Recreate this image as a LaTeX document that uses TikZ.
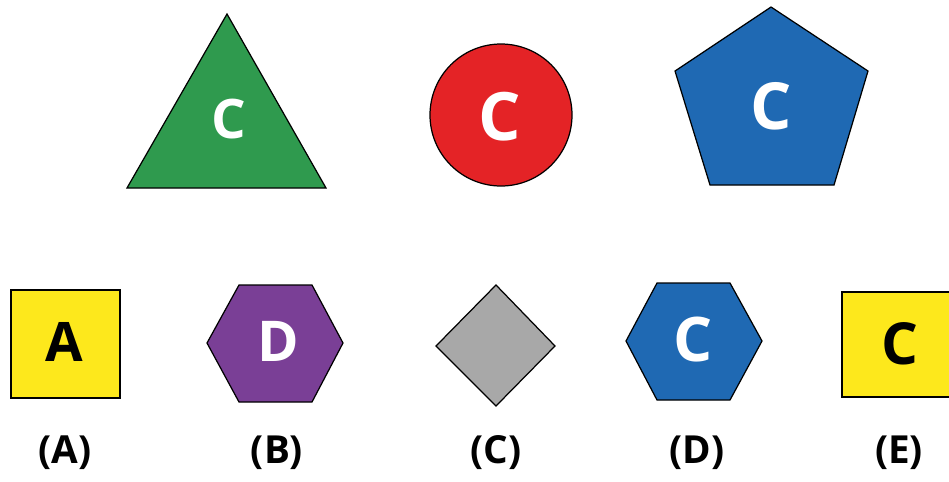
\documentclass[tikz,border=0pt]{standalone}
\usepackage{fontspec}
\setmainfont{Open Sans}
\usepackage{xcolor}
\usepackage{tikz}
\usetikzlibrary{positioning}

\definecolor{shgreen}{HTML}{2F9A4E}
\definecolor{shred}{HTML}{E42326}
\definecolor{shblue}{HTML}{1F69B3}
\definecolor{shpurple}{HTML}{7A3F96}
\definecolor{shgray}{HTML}{A8A8A8}
\definecolor{shyellow}{HTML}{FDE81C}

\tikzset{
  figure/.style={draw=black, line width=0.7pt, line join=miter},
  letter/.style={font=\fontsize{#1}{#1}\selectfont\bfseries, inner sep=0pt},
  caption/.style={font=\fontsize{22}{22}\selectfont\bfseries, inner sep=0pt}
}

\begin{document}
\begin{tikzpicture}[x=0.02cm, y=-0.02cm]
\useasboundingbox (0,0) rectangle (949,481);
\begin{scope}
\clip (0,0) rectangle (949,481);
% top row
\filldraw[figure, fill=shgreen] (227,14) -- (326,188) -- (127,188) -- cycle;
\filldraw[figure, fill=shred] (501,115) circle (71);
\filldraw[figure, fill=shblue] (771,7) -- (868,71) -- (834,185) -- (710,185) -- (675,71) -- cycle;
\node[letter=31, white] (triC) at (229,119) {C};
\node[letter=38, white] (circC) at (500,117) {C};
\node[letter=37, white] (pentC) at (771,106) {C};
% bottom row
\filldraw[figure, fill=shyellow] (11,290) rectangle (120,398);
\filldraw[figure, fill=shpurple] (207,343) -- (239,285) -- (312,285) -- (343,343) -- (312,402) -- (239,402) -- cycle;
\filldraw[figure, fill=shgray] (496,285) -- (555,346) -- (496,406) -- (436,346) -- cycle;
\filldraw[figure, fill=shblue] (626,341) -- (657,283) -- (730,283) -- (762,341) -- (730,400) -- (657,400) -- cycle;
\filldraw[figure, fill=shyellow] (842,292) rectangle (955,397);
\node[letter=31, black] (sqA) at (64,342) {A};
\node[letter=32, white] (hexD) at (278,341) {D};
\node[letter=35, white] (hexC) at (693,340) {C};
\node[letter=33, black] (sqC) at (900,344) {C};
\end{scope}
% answer labels
\foreach \x/\l in {65/A, 277/B, 496/C, 697/D, 899/E}{
  \node[caption] (lab\l) at (\x,453) {(\l)};
}
\end{tikzpicture}
\end{document}
